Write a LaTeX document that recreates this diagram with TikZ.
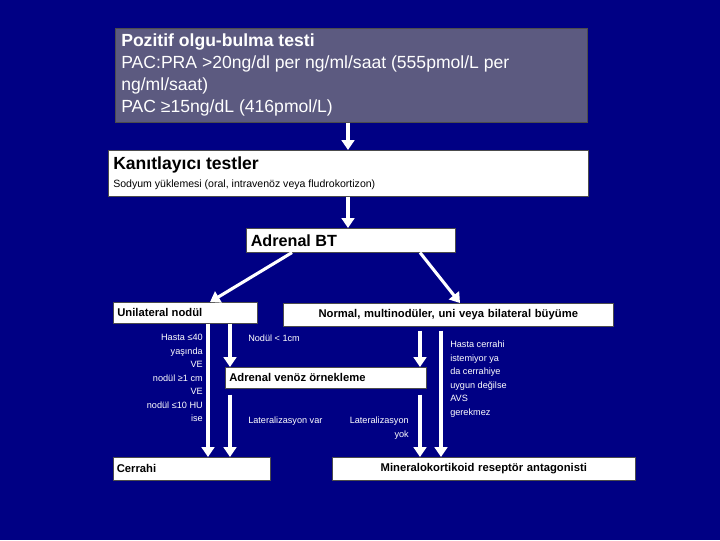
\documentclass[tikz,border=0pt]{standalone}
\usepackage{fontspec}
\setmainfont{Liberation Sans}
\usetikzlibrary{positioning,arrows.meta}
\definecolor{navy}{RGB}{0,0,132}
\definecolor{slate}{RGB}{92,90,128}
\tikzset{
  box/.style={rectangle,draw=black!70,fill=white,inner sep=2pt,anchor=north west,text=black},
  flow/.style={white,line width=2.2pt,-{Triangle[length=7pt,width=9pt]}},
  note/.style={text=white,font=\fontsize{6.5}{9.6}\selectfont,inner sep=0pt}
}
\begin{document}
\begin{tikzpicture}[x=0.025cm,y=-0.025cm]
  \fill[navy] (0,0) rectangle (720,540);

  % boxes
  \node[box,fill=slate,text=white,minimum width=472*0.025cm,minimum height=94*0.025cm,
        text width=460*0.025cm,align=flush left,font=\fontsize{12.5}{15.6}\selectfont] (pos) at (115,28)
        {\textbf{Pozitif olgu-bulma testi}\\PAC:PRA >20ng/dl per ng/ml/saat (555pmol/L per ng/ml/saat)\\PAC ≥15ng/dL (416pmol/L)};
  \node[box,minimum width=480*0.025cm,minimum height=46*0.025cm,text width=470*0.025cm,align=flush left] (kan) at (108,150)
        {{\fontsize{12.5}{14}\selectfont\textbf{Kanıtlayıcı testler}}\\[1pt]{\fontsize{7.5}{9}\selectfont Sodyum yüklemesi (oral, intravenöz veya fludrokortizon)}};
  \node[box,minimum width=209*0.025cm,minimum height=24*0.025cm,text width=200*0.025cm,align=flush left,
        font=\fontsize{11.5}{13}\selectfont\bfseries] (bt) at (246,228) {Adrenal BT};
  \node[box,minimum width=144*0.025cm,minimum height=21*0.025cm,text width=136*0.025cm,align=flush left,
        font=\fontsize{8}{9}\selectfont\bfseries] (uni) at (113,302) {Unilateral nodül};
  \node[box,minimum width=330*0.025cm,minimum height=23*0.025cm,text width=320*0.025cm,align=center,
        font=\fontsize{8}{9}\selectfont\bfseries] (nor) at (283,303) {Normal, multinodüler, uni veya bilateral büyüme};
  \node[box,minimum width=201*0.025cm,minimum height=21*0.025cm,text width=193*0.025cm,align=flush left,
        font=\fontsize{8}{9}\selectfont\bfseries] (avs) at (225,367) {Adrenal venöz örnekleme};
  \node[box,minimum width=157*0.025cm,minimum height=23*0.025cm,text width=150*0.025cm,align=flush left,
        font=\fontsize{8}{9}\selectfont\bfseries] (cer) at (113,457) {Cerrahi};
  \node[box,minimum width=303*0.025cm,minimum height=23*0.025cm,text width=295*0.025cm,align=center,
        font=\fontsize{8}{9}\selectfont\bfseries] (mra) at (332,457) {Mineralokortikoid reseptör antagonisti};

  % labels
  \node[note,anchor=north east,align=right] (l1) at (203,334) {Hasta ≤40\\yaşında\\VE\\nodül ≥1 cm\\VE\\nodül ≤10 HU\\ise};
  \node[note,anchor=north west] (l2) at (248,335) {Nodül < 1cm};
  \node[note,anchor=north west] (l3) at (248,417) {Lateralizasyon var};
  \node[note,anchor=north east,align=right] (l4) at (409,417) {Lateralizasyon\\yok};
  \node[note,anchor=north west,align=left] (l5) at (450,341) {Hasta cerrahi\\istemiyor ya\\da cerrahiye\\uygun değilse\\AVS\\gerekmez};

  % arrows
  \draw[flow] (pos.south -| 348,0) -- (kan.north -| 348,0);
  \draw[flow] (kan.south -| 348,0) -- (bt.north -| 348,0);
  \draw[flow] (bt.south -| 292,0) -- (uni.north -| 210,0);
  \draw[flow] (bt.south -| 420,0) -- (nor.north -| 460,0);
  \draw[flow] (uni.south -| 208,0) -- (cer.north -| 208,0);
  \draw[flow] (uni.south -| 230,0) -- (avs.north -| 230,0);
  \draw[flow] (avs.south -| 230,0) ++(0,6) -- (cer.north -| 230,0);
  \draw[flow] (nor.south -| 420,0) ++(0,4) -- (avs.north -| 420,0);
  \draw[flow] (avs.south -| 420,0) ++(0,6) -- (mra.north -| 420,0);
  \draw[flow] (nor.south -| 441,0) ++(0,4) -- (mra.north -| 441,0);
\end{tikzpicture}
\end{document}
